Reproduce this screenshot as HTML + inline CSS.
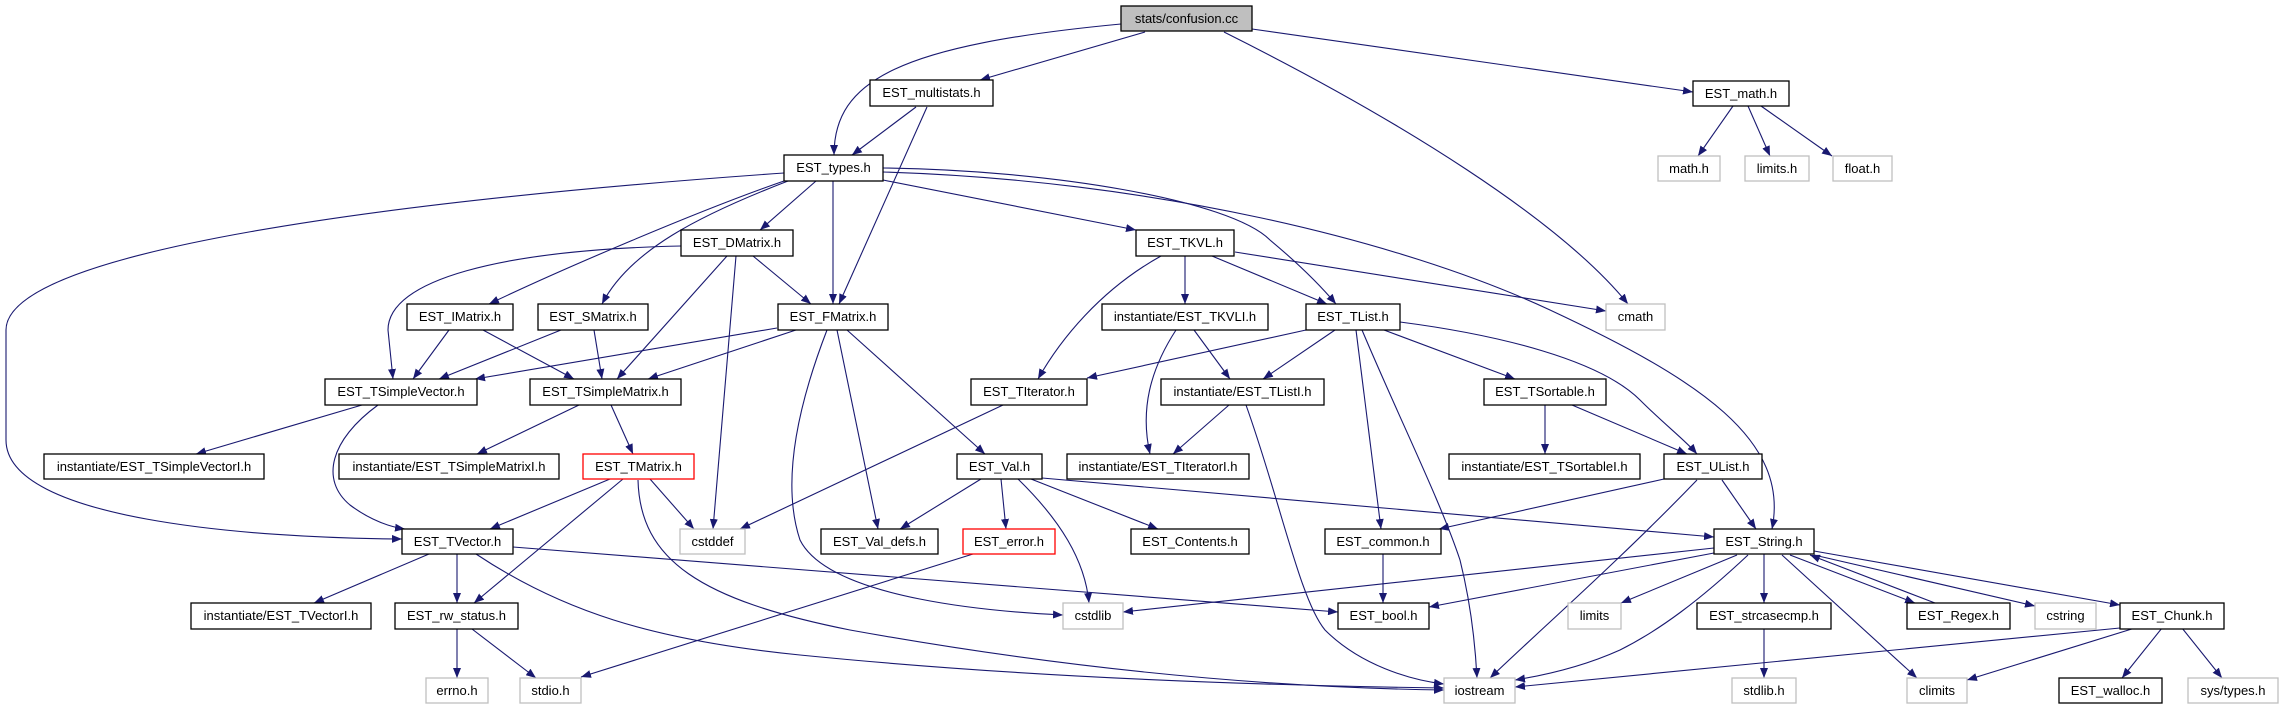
<!DOCTYPE html>
<html><head><meta charset="utf-8"><style>
html,body{margin:0;padding:0;background:#fff;}
svg{display:block;}
text{font-family:"Liberation Sans",sans-serif;font-size:13px;text-anchor:middle;fill:#000;}
.b{fill:#fff;stroke:#000;stroke-width:1.3;}
.g{fill:#fff;stroke:#bfbfbf;stroke-width:1.3;}
.r{fill:#fff;stroke:#ff0000;stroke-width:1.3;}
.e{fill:none;stroke:#191970;stroke-width:1.1;marker-end:url(#a);}
</style></head><body>
<svg width="2283" height="709" viewBox="0 0 2283 709" xmlns="http://www.w3.org/2000/svg">
<defs><marker id="a" viewBox="0 0 10 8" refX="10" refY="4" markerWidth="10" markerHeight="8" markerUnits="userSpaceOnUse" orient="auto"><path d="M0,0 L10,4 L0,8 z" fill="#191970"/></marker></defs>
<g>
<path class="e" d="M1121,24 C900,45 834,80 834,155"/>
<path class="e" d="M1145,32 L980,80"/>
<path class="e" d="M1224,32 C1400,120 1560,220 1628,304"/>
<path class="e" d="M1252,29 L1693,92"/>
<path class="e" d="M916,107 L852,155"/>
<path class="e" d="M927,107 L839,304"/>
<path class="e" d="M1733,106 L1698,156"/>
<path class="e" d="M1748,106 L1770,156"/>
<path class="e" d="M1761,106 L1832,156"/>
<path class="e" d="M784,173 C400,200 6,250 6,330 L6,440 C6,520 250,538 402,539"/>
<path class="e" d="M784,181 C700,210 560,270 489,304"/>
<path class="e" d="M788,181 C700,215 630,250 602,304"/>
<path class="e" d="M816,181 L760,230"/>
<path class="e" d="M833,181 L833,304"/>
<path class="e" d="M883,180 L1136,230"/>
<path class="e" d="M883,168 C1050,170 1230,200 1270,240 C1300,265 1320,285 1336,304"/>
<path class="e" d="M883,172 C1150,180 1400,240 1550,310 C1700,380 1790,440 1772,529"/>
<path class="e" d="M681,246 C500,250 388,280 388,330 L393,379"/>
<path class="e" d="M727,256 L617,379"/>
<path class="e" d="M736,256 L713,529"/>
<path class="e" d="M753,256 L811,304"/>
<path class="e" d="M449,330 L413,379"/>
<path class="e" d="M483,330 L574,379"/>
<path class="e" d="M561,330 L439,379"/>
<path class="e" d="M594,330 L602,379"/>
<path class="e" d="M777,328 L475,379"/>
<path class="e" d="M796,330 L648,379"/>
<path class="e" d="M827,330 C800,400 780,480 800,540 C830,600 1000,612 1063,615"/>
<path class="e" d="M837,330 L878,529"/>
<path class="e" d="M847,330 L985,454"/>
<path class="e" d="M1161,256 C1100,290 1060,340 1038,379"/>
<path class="e" d="M1185,256 L1185,304"/>
<path class="e" d="M1212,256 L1327,304"/>
<path class="e" d="M1235,252 L1606,311"/>
<path class="e" d="M1176,330 C1150,370 1140,410 1150,454"/>
<path class="e" d="M1194,330 L1230,379"/>
<path class="e" d="M1306,330 L1087,378"/>
<path class="e" d="M1335,330 L1263,379"/>
<path class="e" d="M1384,330 L1515,379"/>
<path class="e" d="M1400,322 C1500,335 1600,360 1640,400 C1665,425 1685,440 1697,454"/>
<path class="e" d="M1356,330 L1381,529"/>
<path class="e" d="M1362,330 C1400,420 1440,500 1460,560 C1470,600 1475,640 1477,678"/>
<path class="e" d="M362,405 L196,454"/>
<path class="e" d="M378,405 C330,440 320,480 350,505 C370,520 390,527 405,529"/>
<path class="e" d="M579,405 L477,454"/>
<path class="e" d="M611,405 L633,454"/>
<path class="e" d="M610,479 L490,529"/>
<path class="e" d="M623,479 L474,603"/>
<path class="e" d="M650,479 L694,529"/>
<path class="e" d="M638,480 C640,560 700,600 850,630 C1100,675 1300,688 1444,690"/>
<path class="e" d="M1003,405 L740,529"/>
<path class="e" d="M1229,405 L1173,454"/>
<path class="e" d="M1246,405 C1280,500 1300,600 1325,630 C1360,665 1410,680 1444,684"/>
<path class="e" d="M1545,405 L1545,454"/>
<path class="e" d="M1572,405 L1687,454"/>
<path class="e" d="M981,479 L900,529"/>
<path class="e" d="M1001,479 L1006,529"/>
<path class="e" d="M1018,479 C1060,520 1085,560 1089,603"/>
<path class="e" d="M1031,479 L1158,529"/>
<path class="e" d="M1042,478 L1714,537"/>
<path class="e" d="M1664,479 L1439,529"/>
<path class="e" d="M1722,480 L1756,529"/>
<path class="e" d="M1697,480 C1620,560 1540,630 1490,678"/>
<path class="e" d="M429,554 L314,603"/>
<path class="e" d="M457,554 L457,603"/>
<path class="e" d="M476,554 C560,610 650,640 800,655 C1050,680 1300,686 1444,688"/>
<path class="e" d="M513,547 L1338,612"/>
<path class="e" d="M973,554 L581,677"/>
<path class="e" d="M1383,554 L1383,603"/>
<path class="e" d="M1714,548 L1123,612"/>
<path class="e" d="M1714,553 L1429,607"/>
<path class="e" d="M1737,555 L1621,603"/>
<path class="e" d="M1748,555 C1700,600 1660,630 1620,650 C1580,668 1540,676 1515,680"/>
<path class="e" d="M1764,554 L1764,603"/>
<path class="e" d="M1782,555 L1917,678"/>
<path class="e" d="M1790,555 L1915,603"/>
<path class="e" d="M1935,603 L1810,555"/>
<path class="e" d="M1814,555 L2035,606"/>
<path class="e" d="M1814,551 L2120,605"/>
<path class="e" d="M1764,629 L1764,678"/>
<path class="e" d="M2120,628 L1515,687"/>
<path class="e" d="M2135,628 L1967,680"/>
<path class="e" d="M2162,628 L2122,678"/>
<path class="e" d="M2182,628 L2222,678"/>
<path class="e" d="M457,629 L457,678"/>
<path class="e" d="M472,629 L536,678"/>
</g>
<g>
<rect x="1121" y="6" width="131" height="25" fill="#bfbfbf" stroke="#000" stroke-width="1.3"/><text x="1186.5" y="23">stats/confusion.cc</text>
<rect class="b" x="870" y="80" width="123" height="26"/><text x="931.5" y="97">EST_multistats.h</text>
<rect class="b" x="1693" y="81" width="96" height="25"/><text x="1741" y="98">EST_math.h</text>
<rect class="b" x="784" y="155" width="99" height="26"/><text x="833.5" y="172">EST_types.h</text>
<rect class="g" x="1658" y="156" width="62" height="25"/><text x="1689" y="173">math.h</text>
<rect class="g" x="1745" y="156" width="64" height="25"/><text x="1777" y="173">limits.h</text>
<rect class="g" x="1833" y="156" width="59" height="25"/><text x="1862.5" y="173">float.h</text>
<rect class="b" x="681" y="230" width="112" height="26"/><text x="737" y="247">EST_DMatrix.h</text>
<rect class="b" x="1136" y="230" width="98" height="26"/><text x="1185" y="247">EST_TKVL.h</text>
<rect class="b" x="407" y="304" width="106" height="26"/><text x="460" y="321">EST_IMatrix.h</text>
<rect class="b" x="538" y="304" width="110" height="26"/><text x="593" y="321">EST_SMatrix.h</text>
<rect class="b" x="778" y="304" width="110" height="26"/><text x="833" y="321">EST_FMatrix.h</text>
<rect class="b" x="1102" y="304" width="166" height="26"/><text x="1185" y="321">instantiate/EST_TKVLI.h</text>
<rect class="b" x="1306" y="304" width="94" height="26"/><text x="1353" y="321">EST_TList.h</text>
<rect class="g" x="1606" y="304" width="59" height="26"/><text x="1635.5" y="321">cmath</text>
<rect class="b" x="325" y="379" width="152" height="26"/><text x="401" y="396">EST_TSimpleVector.h</text>
<rect class="b" x="530" y="379" width="151" height="26"/><text x="605.5" y="396">EST_TSimpleMatrix.h</text>
<rect class="b" x="971" y="379" width="116" height="26"/><text x="1029" y="396">EST_TIterator.h</text>
<rect class="b" x="1161" y="379" width="163" height="26"/><text x="1242.5" y="396">instantiate/EST_TListI.h</text>
<rect class="b" x="1484" y="379" width="122" height="26"/><text x="1545" y="396">EST_TSortable.h</text>
<rect class="b" x="44" y="454" width="220" height="25"/><text x="154" y="471">instantiate/EST_TSimpleVectorI.h</text>
<rect class="b" x="339" y="454" width="220" height="25"/><text x="449" y="471">instantiate/EST_TSimpleMatrixI.h</text>
<rect class="r" x="583" y="454" width="111" height="25"/><text x="638.5" y="471">EST_TMatrix.h</text>
<rect class="b" x="957" y="454" width="85" height="25"/><text x="999.5" y="471">EST_Val.h</text>
<rect class="b" x="1067" y="454" width="182" height="25"/><text x="1158" y="471">instantiate/EST_TIteratorI.h</text>
<rect class="b" x="1449" y="454" width="191" height="25"/><text x="1544.5" y="471">instantiate/EST_TSortableI.h</text>
<rect class="b" x="1664" y="454" width="98" height="25"/><text x="1713" y="471">EST_UList.h</text>
<rect class="b" x="402" y="529" width="111" height="25"/><text x="457.5" y="546">EST_TVector.h</text>
<rect class="g" x="680" y="529" width="65" height="25"/><text x="712.5" y="546">cstddef</text>
<rect class="b" x="821" y="529" width="117" height="25"/><text x="879.5" y="546">EST_Val_defs.h</text>
<rect class="r" x="963" y="529" width="92" height="25"/><text x="1009" y="546">EST_error.h</text>
<rect class="b" x="1131" y="529" width="118" height="25"/><text x="1190" y="546">EST_Contents.h</text>
<rect class="b" x="1325" y="529" width="116" height="25"/><text x="1383" y="546">EST_common.h</text>
<rect class="b" x="1714" y="529" width="100" height="25"/><text x="1764" y="546">EST_String.h</text>
<rect class="b" x="191" y="603" width="180" height="26"/><text x="281" y="620">instantiate/EST_TVectorI.h</text>
<rect class="b" x="395" y="603" width="123" height="26"/><text x="456.5" y="620">EST_rw_status.h</text>
<rect class="g" x="1063" y="603" width="60" height="26"/><text x="1093" y="620">cstdlib</text>
<rect class="b" x="1338" y="603" width="91" height="26"/><text x="1383.5" y="620">EST_bool.h</text>
<rect class="g" x="1568" y="603" width="53" height="26"/><text x="1594.5" y="620">limits</text>
<rect class="b" x="1697" y="603" width="134" height="26"/><text x="1764" y="620">EST_strcasecmp.h</text>
<rect class="b" x="1907" y="603" width="103" height="26"/><text x="1958.5" y="620">EST_Regex.h</text>
<rect class="g" x="2035" y="603" width="61" height="26"/><text x="2065.5" y="620">cstring</text>
<rect class="b" x="2120" y="603" width="104" height="26"/><text x="2172" y="620">EST_Chunk.h</text>
<rect class="g" x="426" y="678" width="62" height="25"/><text x="457" y="695">errno.h</text>
<rect class="g" x="520" y="678" width="61" height="25"/><text x="550.5" y="695">stdio.h</text>
<rect class="g" x="1444" y="678" width="71" height="25"/><text x="1479.5" y="695">iostream</text>
<rect class="g" x="1732" y="678" width="64" height="25"/><text x="1764" y="695">stdlib.h</text>
<rect class="g" x="1907" y="678" width="60" height="25"/><text x="1937" y="695">climits</text>
<rect class="b" x="2059" y="678" width="103" height="25"/><text x="2110.5" y="695">EST_walloc.h</text>
<rect class="g" x="2188" y="678" width="90" height="25"/><text x="2233" y="695">sys/types.h</text>
</g>
</svg>
</body></html>
